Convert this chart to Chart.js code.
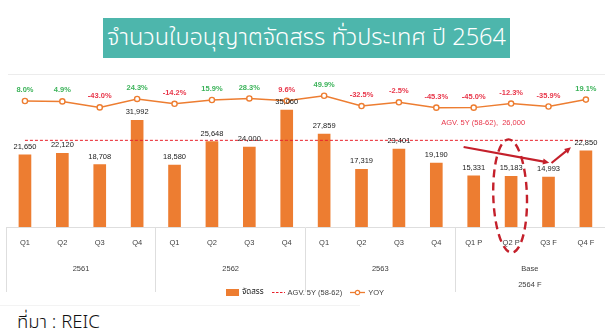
<!DOCTYPE html>
<html lang="th">
<head>
<meta charset="utf-8">
<title>จำนวนใบอนุญาตจัดสรร ทั่วประเทศ ปี 2564</title>
<script src="https://cdn.jsdelivr.net/npm/chart.js@4/dist/chart.umd.min.js"></script>
<style>
  html, body { margin: 0; padding: 0; background: #fff; }
  #page { position: relative; width: 610px; height: 336px; overflow: hidden; font-family: "Liberation Sans", Arial, sans-serif; }
  #title {
    position: absolute; left: 103px; top: 18px; width: 407px; height: 40px;
    background: #4db6ac; color: #fff;
    font-family: "Noto Sans Thai", "Noto Sans Thai Looped", Loma, Garuda, "Noto Sans", sans-serif;
    font-weight: 300; font-size: 23.5px; line-height: 40px; text-align: center; white-space: nowrap;
  }
  #topRule { position: absolute; left: 8px; right: 5px; top: 74px; height: 1px; background: #ececec; }
  #chartBox { position: absolute; left: 0; top: 76px; width: 610px; height: 224px; }
  #legend {
    position: absolute; left: 0; width: 610px; top: 286px; height: 12px;
    display: flex; justify-content: center; align-items: center; gap: 0;
    font-size: 7.5px; color: #404040;
  }
  #legend .item { display: flex; align-items: center; margin: 0 4px; }
  #legend svg { margin-right: 3px; }
  #legend .thai { font-family: "Noto Sans Thai", Loma, Garuda, sans-serif; font-weight: 400; font-size: 8px; color: #222; }
  #bottomRule { position: absolute; left: 0; width: 360px; top: 305px; height: 1px; background: #f3f3f3; }
  #source {
    position: absolute; left: 17px; top: 308px;
    font-family: "Noto Sans Thai", "Noto Sans Thai Looped", Loma, Garuda, "Noto Sans", sans-serif;
    font-weight: 300; font-size: 18.5px; color: #111; white-space: nowrap;
  }
</style>
</head>
<body>
<div id="page">
  <div id="title">จำนวนใบอนุญาตจัดสรร ทั่วประเทศ ปี 2564</div>
  <div id="topRule"></div>
  <div id="chartBox"><canvas id="chart" width="610" height="224"></canvas></div>
  <div id="legend">
    <div class="item">
      <svg width="13" height="7"><rect x="0" y="0" width="13" height="7" fill="#ed7d31"/></svg>
      <span class="thai">จัดสรร</span>
    </div>
    <div class="item">
      <svg width="13" height="7"><line x1="0" y1="3.5" x2="13" y2="3.5" stroke="#e8202a" stroke-width="1" stroke-dasharray="2.5,1.5"/></svg>
      <span>AGV. 5Y (58-62)</span>
    </div>
    <div class="item">
      <svg width="15" height="7"><line x1="0" y1="3.5" x2="15" y2="3.5" stroke="#ed7d31" stroke-width="1.3"/><circle cx="7.5" cy="3.5" r="2.2" fill="#fff" stroke="#ed7d31" stroke-width="1.2"/></svg>
      <span>YOY</span>
    </div>
  </div>
  <div id="bottomRule"></div>
  <div id="source">ที่มา : REIC</div>
</div>

<script>
// Quarter labels and the year groups they belong to
const quarters = ['Q1', 'Q2', 'Q3', 'Q4', 'Q1', 'Q2', 'Q3', 'Q4', 'Q1', 'Q2', 'Q3', 'Q4', 'Q1 P', 'Q2 P', 'Q3 F', 'Q4 F'];
const years = ['2561', '2562', '2563', ['Base', '2564 F']];

// Allocated land-development permits per quarter (units)
const allocated = [21650, 22120, 18708, 31992, 18580, 25648, 24000, 35060, 27859, 17319, 23401, 19190, 15331, 15183, 14993, 22850];

// Year-on-year change (%)
const yoy = [8.0, 4.9, -43.0, 24.3, -14.2, 15.9, 28.3, 9.6, 49.9, -32.5, -2.5, -45.3, -45.0, -12.3, -35.9, 19.1];

// Five-year average 2558-2562
const avg5y = 26000;
const avgLine = quarters.map(() => avg5y);

const ORANGE = '#ed7d31';
const RED = '#e8202a';
const DARK_RED = '#c4202b';
const GREEN = '#3cb35a';
const PCT_RED = '#e8364a';
const FONT = "'Liberation Sans', Arial, sans-serif";
// the 2562 Q4 change is shown in red like the declines
const yoyRedIndex = new Set([7]);

Chart.defaults.font.family = FONT;
Chart.defaults.font.size = 7.5;
Chart.defaults.color = '#404040';

// Values printed above bars and line points
const valueLabels = {
  id: 'valueLabels',
  afterDatasetsDraw(chart) {
    const ctx = chart.ctx;
    ctx.save();
    ctx.textAlign = 'center';
    ctx.textBaseline = 'middle';
    const barMeta = chart.getDatasetMeta(0);
    ctx.font = `7.5px ${FONT}`;
    ctx.fillStyle = '#1a1a1a';
    barMeta.data.forEach((el, i) => {
      ctx.fillText(allocated[i].toLocaleString('en-US'), el.x, el.y - 8);
    });
    const lineMeta = chart.getDatasetMeta(2);
    ctx.font = `bold 7.5px ${FONT}`;
    lineMeta.data.forEach((el, i) => {
      const v = yoy[i];
      ctx.fillStyle = (v < 0 || yoyRedIndex.has(i)) ? PCT_RED : GREEN;
      ctx.fillText(v.toFixed(1) + '%', el.x, el.y - 11);
    });
    ctx.restore();
  }
};

// Average note, trend arrows and highlight ellipse, placed in data coordinates
const notes = {
  id: 'notes',
  afterDraw(chart) {
    const { ctx, scales: { x, y } } = chart;
    const step = x.getPixelForValue(1) - x.getPixelForValue(0);
    const px = (i) => x.getPixelForValue(0) + i * step;
    ctx.save();

    ctx.font = `7.5px ${FONT}`;
    ctx.fillStyle = PCT_RED;
    ctx.textAlign = 'left';
    ctx.textBaseline = 'middle';
    ctx.fillText('AGV. 5Y (58-62),  ' + avg5y.toLocaleString('en-US'), px(11.13), y.getPixelForValue(31200));

    const arrow = (i0, v0, i1, v1) => {
      const x0 = px(i0), y0 = y.getPixelForValue(v0);
      const x1 = px(i1), y1 = y.getPixelForValue(v1);
      const a = Math.atan2(y1 - y0, x1 - x0);
      const head = 7;
      ctx.beginPath();
      ctx.moveTo(x0, y0);
      ctx.lineTo(x1 - Math.cos(a) * head * 0.6, y1 - Math.sin(a) * head * 0.6);
      ctx.stroke();
      ctx.beginPath();
      ctx.moveTo(x1, y1);
      ctx.lineTo(x1 - head * Math.cos(a - 0.45), y1 - head * Math.sin(a - 0.45));
      ctx.lineTo(x1 - head * Math.cos(a + 0.45), y1 - head * Math.sin(a + 0.45));
      ctx.closePath();
      ctx.fill();
    };
    ctx.strokeStyle = DARK_RED;
    ctx.fillStyle = DARK_RED;
    ctx.lineWidth = 2.2;
    ctx.setLineDash([]);
    arrow(11.73, 24000, 14.02, 19300);
    arrow(14.08, 19200, 14.6, 23900);

    // dashed ellipse around the 2564 Q2 bar
    const cx = px(13) - 1;
    const cy = y.getPixelForValue(9300);
    const ry = y.getPixelForValue(0) - y.getPixelForValue(17000);
    const rx = step * 0.45;
    ctx.lineWidth = 2.4;
    ctx.setLineDash([8, 5]);
    ctx.beginPath();
    ctx.ellipse(cx, cy, rx, ry, -0.03, 0, Math.PI * 2);
    ctx.stroke();
    ctx.restore();
  }
};

new Chart(document.getElementById('chart'), {
  data: {
    labels: quarters,
    datasets: [
      {
        type: 'bar',
        label: 'จัดสรร',
        data: allocated,
        backgroundColor: ORANGE,
        barThickness: 12,
        yAxisID: 'y',
        order: 3
      },
      {
        type: 'line',
        label: 'AGV. 5Y (58-62)',
        data: avgLine,
        borderColor: RED,
        borderWidth: 1,
        borderDash: [3, 2],
        pointRadius: 0,
        yAxisID: 'y',
        order: 1
      },
      {
        type: 'line',
        label: 'YOY',
        data: yoy,
        borderColor: ORANGE,
        borderWidth: 1.5,
        pointRadius: 2.6,
        pointBackgroundColor: '#fff',
        pointBorderColor: ORANGE,
        pointBorderWidth: 1.4,
        tension: 0,
        yAxisID: 'y1',
        order: 2
      }
    ]
  },
  options: {
    responsive: false,
    animation: false,
    events: [],
    layout: { padding: { left: 6.25, right: 3.75, top: 11, bottom: 0 } },
    plugins: { legend: { display: false }, tooltip: { enabled: false } },
    scales: {
      x: {
        position: 'bottom',
        offset: true,
        grid: {
          offset: true,
          drawOnChartArea: false,
          drawTicks: true,
          tickLength: 65,
          color: (c) => (c.index % 4 === 0 ? '#dedede' : 'rgba(0,0,0,0)')
        },
        border: { display: true, color: '#dedede' },
        ticks: { padding: -54, color: '#404040', font: { size: 7.5 }, maxRotation: 0, autoSkip: false },
        afterFit: (s) => { s.height = 28; }
      },
      x2: {
        type: 'category',
        position: 'bottom',
        labels: years,
        offset: true,
        grid: { display: false },
        border: { display: false },
        ticks: { padding: -2, color: '#404040', font: { size: 7.5, lineHeight: 2.1 }, maxRotation: 0, autoSkip: false },
        afterFit: (s) => { s.height = 45; }
      },
      y: { display: false, min: 0, max: 42000 },
      y1: { display: false, min: -1000, max: 120 }
    }
  },
  plugins: [valueLabels, notes]
});
</script>
</body>
</html>
